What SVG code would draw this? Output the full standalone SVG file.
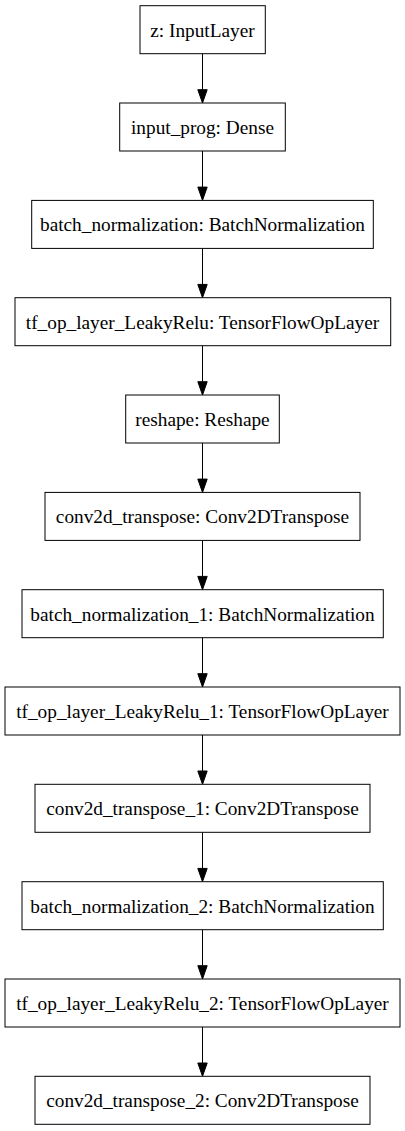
<svg xmlns="http://www.w3.org/2000/svg" width="405" height="1131" viewBox="0 0 405 1131">
<style>
.n rect{fill:#fff;stroke:#000;stroke-width:1}
.n text{font-family:"Liberation Serif","Times New Roman",serif;font-size:19.3px;fill:#000;text-anchor:middle}
.e line{stroke:#000;stroke-width:1}
.e polygon{fill:#000;stroke:#000;stroke-width:1}
</style>
<rect width="405" height="1131" fill="#fff"/>
<g id="edges" class="e">
<line x1="202.5" y1="53.7" x2="202.5" y2="89.7"/><polygon points="197.8,89.7 207.2,89.7 202.5,103"/>
<line x1="202.5" y1="151" x2="202.5" y2="187.1"/><polygon points="197.8,187.1 207.2,187.1 202.5,200.4"/>
<line x1="202.5" y1="248.4" x2="202.5" y2="284.4"/><polygon points="197.8,284.4 207.2,284.4 202.5,297.7"/>
<line x1="202.5" y1="345.7" x2="202.5" y2="381.7"/><polygon points="197.8,381.7 207.2,381.7 202.5,395"/>
<line x1="202.5" y1="443" x2="202.5" y2="479.1"/><polygon points="197.8,479.1 207.2,479.1 202.5,492.4"/>
<line x1="202.5" y1="540.4" x2="202.5" y2="576.4"/><polygon points="197.8,576.4 207.2,576.4 202.5,589.7"/>
<line x1="202.5" y1="637.7" x2="202.5" y2="673.7"/><polygon points="197.8,673.7 207.2,673.7 202.5,687"/>
<line x1="202.5" y1="735" x2="202.5" y2="771"/><polygon points="197.8,771 207.2,771 202.5,784.3"/>
<line x1="202.5" y1="832.3" x2="202.5" y2="868.4"/><polygon points="197.8,868.4 207.2,868.4 202.5,881.7"/>
<line x1="202.5" y1="929.7" x2="202.5" y2="965.7"/><polygon points="197.8,965.7 207.2,965.7 202.5,979"/>
<line x1="202.5" y1="1027" x2="202.5" y2="1063"/><polygon points="197.8,1063 207.2,1063 202.5,1076.3"/>
</g>
<g id="z" class="n"><rect x="140" y="5.7" width="125.3" height="48"/><text x="202.5" y="36.7">z: InputLayer</text></g>
<g id="input_prog" class="n"><rect x="119.7" y="103" width="165.6" height="48"/><text x="202.5" y="134">input_prog: Dense</text></g>
<g id="batch_normalization" class="n"><rect x="31.7" y="200.4" width="341.6" height="48"/><text x="202.5" y="231.4">batch_normalization: BatchNormalization</text></g>
<g id="tf_op_layer_LeakyRelu" class="n"><rect x="15" y="297.7" width="375.7" height="48"/><text x="202.5" y="328.7">tf_op_layer_LeakyRelu: TensorFlowOpLayer</text></g>
<g id="reshape" class="n"><rect x="125.7" y="395" width="153.6" height="48"/><text x="202.5" y="426">reshape: Reshape</text></g>
<g id="conv2d_transpose" class="n"><rect x="45" y="492.4" width="315" height="48"/><text x="202.5" y="523.4">conv2d_transpose: Conv2DTranspose</text></g>
<g id="batch_normalization_1" class="n"><rect x="22" y="589.7" width="361.3" height="48"/><text x="202.5" y="620.7">batch_normalization_1: BatchNormalization</text></g>
<g id="tf_op_layer_LeakyRelu_1" class="n"><rect x="5" y="687" width="395" height="48"/><text x="202.5" y="718">tf_op_layer_LeakyRelu_1: TensorFlowOpLayer</text></g>
<g id="conv2d_transpose_1" class="n"><rect x="35" y="784.3" width="335" height="48"/><text x="202.5" y="815.3">conv2d_transpose_1: Conv2DTranspose</text></g>
<g id="batch_normalization_2" class="n"><rect x="22" y="881.7" width="361.3" height="48"/><text x="202.5" y="912.7">batch_normalization_2: BatchNormalization</text></g>
<g id="tf_op_layer_LeakyRelu_2" class="n"><rect x="5" y="979" width="395" height="48"/><text x="202.5" y="1010">tf_op_layer_LeakyRelu_2: TensorFlowOpLayer</text></g>
<g id="conv2d_transpose_2" class="n"><rect x="35" y="1076.3" width="335" height="48"/><text x="202.5" y="1107.3">conv2d_transpose_2: Conv2DTranspose</text></g>
</svg>
